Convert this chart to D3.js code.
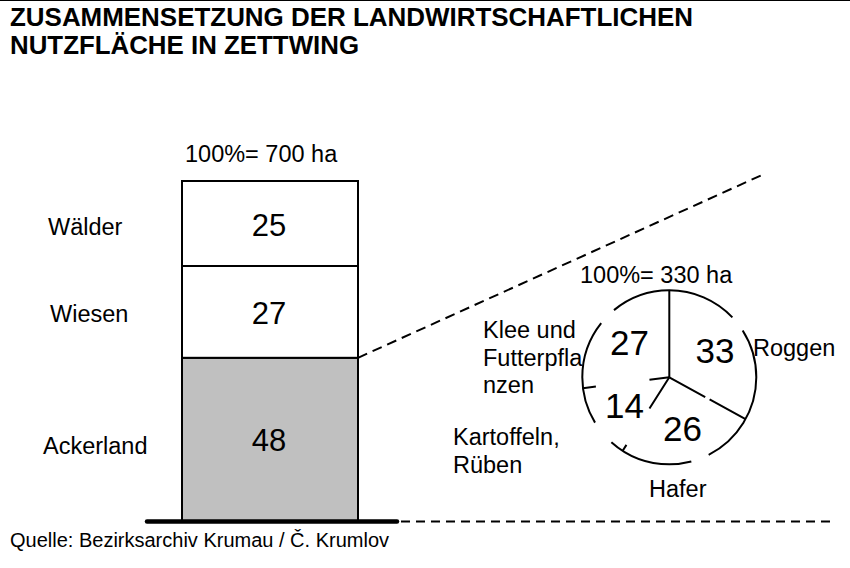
<!DOCTYPE html>
<html><head><meta charset="utf-8">
<script src="https://cdn.jsdelivr.net/npm/d3@7"></script>
<style>body{margin:0;background:#fff}svg{display:block}</style>
</head><body>
<svg id="c" width="850" height="568"></svg>
<script>
// ---- data ----
const titleLines = ["ZUSAMMENSETZUNG DER LANDWIRTSCHAFTLICHEN", "NUTZFLÄCHE IN ZETTWING"];
const barCategories = ["Ackerland", "Wiesen", "Wälder"];
const barValues = [48, 27, 25];
const barTotalLabel = "100%= 700 ha";
const pieCategories = ["Roggen", "Hafer", "Kartoffeln, Rüben", "Klee und Futterpflanzen"];
const pieValues = [33, 26, 14, 27];
const pieLabelLines = [["Roggen"], ["Hafer"], ["Kartoffeln,", "Rüben"], ["Klee und", "Futterpfla", "nzen"]];
const pieTotalLabel = "100%= 330 ha";
const sourceText = "Quelle: Bezirksarchiv Krumau / Č. Krumlov";

// ---- layout / style ----
const FONT = "'Liberation Sans', Arial, sans-serif";
const svg = d3.select("#c");
svg.append("rect").attr("width", 850).attr("height", 568).attr("fill", "#fff");
svg.append("line").attr("x1", 0).attr("x2", 850).attr("y1", 0.5).attr("y2", 0.5)
  .attr("stroke", "#000").attr("stroke-width", 1);

// title
const titleWidths = [683, 349];
titleLines.forEach((t, i) => {
  svg.append("text").attr("x", 10).attr("y", 25.5 + i * 28)
    .attr("font-family", FONT).attr("font-weight", "bold").attr("font-size", 25.5)
    .attr("textLength", titleWidths[i]).attr("lengthAdjust", "spacingAndGlyphs")
    .text(t);
});

// ---- stacked bar ----
const y = d3.scaleLinear().domain([0, 100]).range([521, 181]);
const x = d3.scaleBand().domain(["Zettwing"]).range([182, 358]).padding(0);
let cum = 0;
const segs = barCategories.map((c, i) => {
  const s = { cat: c, v: barValues[i], y0: cum, y1: cum + barValues[i] };
  cum += barValues[i];
  return s;
});
const barFill = { "Ackerland": "#c0c0c0", "Wiesen": "#fff", "Wälder": "#fff" };
const labelX = { "Ackerland": 43, "Wiesen": 50, "Wälder": 48 };
const labelDy = { "Ackerland": 15, "Wiesen": 10, "Wälder": 11 };

svg.selectAll("rect.seg").data(segs).join("rect").attr("class", "seg")
  .attr("x", x("Zettwing")).attr("width", x.bandwidth())
  .attr("y", d => y(d.y1)).attr("height", d => y(d.y0) - y(d.y1))
  .attr("fill", d => barFill[d.cat]).attr("stroke", "#000").attr("stroke-width", 2);

svg.selectAll("text.segval").data(segs).join("text").attr("class", "segval")
  .attr("x", x("Zettwing") + x.bandwidth() / 2 - 1)
  .attr("y", d => (y(d.y0) + y(d.y1)) / 2 + 12)
  .attr("text-anchor", "middle").attr("font-family", FONT).attr("font-size", 31)
  .text(d => d.v);

svg.selectAll("text.seglab").data(segs).join("text").attr("class", "seglab")
  .attr("x", d => labelX[d.cat])
  .attr("y", d => (y(d.y0) + y(d.y1)) / 2 + labelDy[d.cat])
  .attr("font-family", FONT).attr("font-size", 23.5)
  .text(d => d.cat);

svg.append("text").attr("x", 185).attr("y", 162).attr("font-family", FONT)
  .attr("font-size", 23.5).text(barTotalLabel);

// baseline + dashed continuation
svg.append("line").attr("x1", 147).attr("x2", 397).attr("y1", y(0) + 0.5).attr("y2", y(0) + 0.5)
  .attr("stroke", "#000").attr("stroke-width", 4.5).attr("stroke-linecap", "round");
svg.append("line").attr("x1", 401).attr("x2", 832).attr("y1", y(0) + 0.5).attr("y2", y(0) + 0.5)
  .attr("stroke", "#000").attr("stroke-width", 2).attr("stroke-dasharray", "9 6");

// connector line from Ackerland top
svg.append("line").attr("x1", x("Zettwing") + x.bandwidth()).attr("y1", y(segs[0].y1))
  .attr("x2", 762).attr("y2", 175)
  .attr("stroke", "#000").attr("stroke-width", 2).attr("stroke-dasharray", "10 6");

// ---- pie ----
const cx = 669.3, cy = 377.3, R = 87;
const pie = d3.pie().sort(null).value(d => d)(pieValues);
const g = svg.append("g").attr("transform", `translate(${cx},${cy})`);

// dashed outline: visible/gap arcs in degrees from 12 o'clock
const outlineDeg = [46.4, 11, 95.4, 12.2, 56.4, 16.8, 69.8, 12, 40];
const k = R * Math.PI / 180;
const circ = d3.path();
circ.moveTo(0, -R);
circ.arc(0, 0, R, -Math.PI / 2, Math.PI * 1.5);
g.append("path").attr("d", circ.toString()).attr("fill", "none")
  .attr("stroke", "#000").attr("stroke-width", 2)
  .attr("stroke-dasharray", outlineDeg.map(v => (v * k).toFixed(2)).join(" ") + " 0");

// radii
const radiusDash = ["none", "41 5 41", "37 43 7", "20 54 13"];
pie.forEach((p, i) => {
  const a = p.startAngle;
  g.append("line").attr("x1", 0).attr("y1", 0)
    .attr("x2", R * Math.sin(a)).attr("y2", -R * Math.cos(a))
    .attr("stroke", "#000").attr("stroke-width", 2)
    .attr("stroke-dasharray", radiusDash[i]);
});

// values
const labelArc = d3.arc().innerRadius(53).outerRadius(53);
g.selectAll("text.pv").data(pie).join("text").attr("class", "pv")
  .attr("x", d => labelArc.centroid(d)[0])
  .attr("y", d => labelArc.centroid(d)[1] + 12.5)
  .attr("text-anchor", "middle").attr("font-family", FONT).attr("font-size", 35)
  .text(d => d.data);

// category labels
const pieLabelPos = [[753, 356], [649, 497], [453, 445], [483, 338]];
pieLabelLines.forEach((lines, i) => {
  const t = svg.append("text").attr("font-family", FONT).attr("font-size", 23.5);
  lines.forEach((l, j) => {
    t.append("tspan").attr("x", pieLabelPos[i][0]).attr("y", pieLabelPos[i][1] + j * 27.5).text(l);
  });
});

svg.append("text").attr("x", 580).attr("y", 283).attr("font-family", FONT)
  .attr("font-size", 23.5).text(pieTotalLabel);

// source
svg.append("text").attr("x", 10).attr("y", 547).attr("font-family", FONT)
  .attr("font-size", 20).text(sourceText);
</script>
</body></html>
